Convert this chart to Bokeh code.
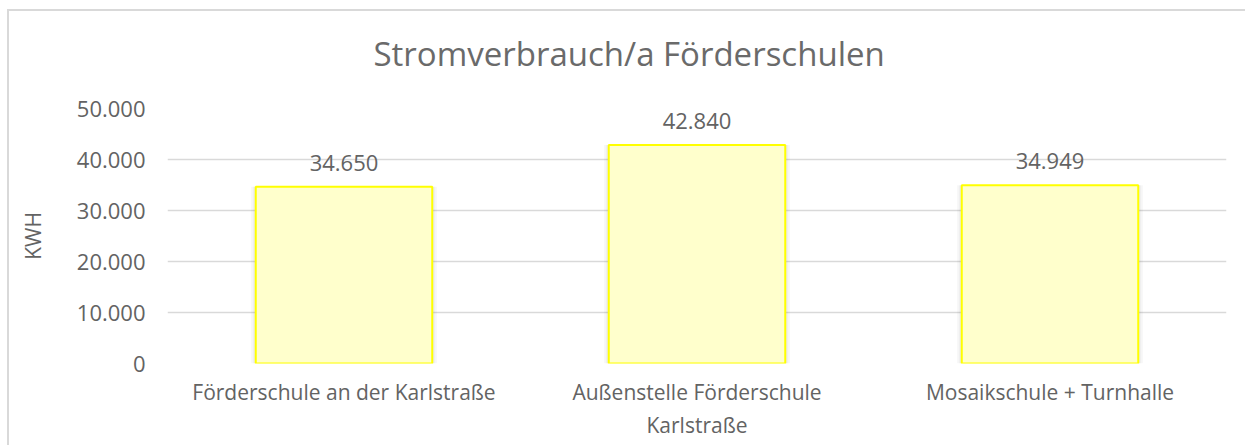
from bokeh.plotting import figure
from bokeh.models import FactorRange, CustomJSTickFormatter, FixedTicker, ColumnDataSource, Title
from bokeh.core.properties import value
from bokeh.embed import file_html
from bokeh.resources import INLINE

title_text = "Stromverbrauch/a Förderschulen"
categories = ["Förderschule an der Karlstraße", "Außenstelle Förderschule\nKarlstraße", "Mosaikschule + Turnhalle"]
kwh = [34650, 42840, 34949]
value_labels = ["34.650", "42.840", "34.949"]
y_ticks = [0, 10000, 20000, 30000, 40000, 50000]

FONT = "Open Sans"
TXT = "#636363"

src = ColumnDataSource(dict(cat=categories, kwh=kwh, lab=value_labels))

p = figure(
    x_range=FactorRange(*categories, range_padding=0),
    y_range=(0, 50000),
    width=1238, height=436,
    output_backend="svg", toolbar_location=None,
    min_border_left=158, min_border_right=21, min_border_top=97, min_border_bottom=84,
    styles={"border-top": "2px solid #d9d9d9", "border-left": "2px solid #d9d9d9",
            "margin-left": "7px", "margin-top": "9px"},
)
p.outline_line_color = None

# spacer between title and plot area
p.add_layout(Title(text=" ", text_font_size="1px", standoff=30), "above")
p.add_layout(Title(text=title_text, text_font=FONT, text_font_size="33px",
                   text_font_style="normal", text_color="#6a6a6a",
                   align="left", offset=206, standoff=0), "above")

p.xgrid.grid_line_color = None
p.ygrid.grid_line_color = "#d9d9d9"
p.ygrid.grid_line_width = 1.5

# soft shadow behind bars
p.vbar(x="cat", top="kwh", width=0.526, source=src, fill_color="black", fill_alpha=0.035, line_color=None)
p.vbar(x="cat", top="kwh", width=0.514, source=src, fill_color="black", fill_alpha=0.045, line_color=None)

p.vbar(x="cat", top="kwh", width=0.5, source=src,
       fill_color="#FFFFCC", line_color="#FFFF00", line_width=2)

p.text(x="cat", y="kwh", text="lab", source=src,
       text_font=value(FONT), text_font_size="22px", text_color=TXT,
       text_align="center", text_baseline="middle", y_offset=-24)

p.yaxis.ticker = FixedTicker(ticks=y_ticks)
p.yaxis.formatter = CustomJSTickFormatter(code="""
return tick.toFixed(0).replace(/\\B(?=(\\d{3})+(?!\\d))/g, '.');
""")
p.yaxis.axis_line_color = None
p.yaxis.major_tick_line_color = None
p.yaxis.minor_tick_line_color = None
p.yaxis.major_label_text_font = FONT
p.yaxis.major_label_text_font_size = "22px"
p.yaxis.major_label_text_color = TXT
p.yaxis.major_label_standoff = 16
p.yaxis.axis_label = "KWH"
p.yaxis.axis_label_text_font = FONT
p.yaxis.axis_label_text_font_size = "21px"
p.yaxis.axis_label_text_font_style = "normal"
p.yaxis.axis_label_text_color = TXT
p.yaxis.axis_label_standoff = 27

p.xaxis.axis_line_color = None
p.xaxis.major_tick_line_color = None
p.xaxis.minor_tick_line_color = None
p.xaxis.major_label_text_font = FONT
p.xaxis.major_label_text_font_size = "21px"
p.xaxis.major_label_text_color = TXT
p.xaxis.major_label_standoff = 8

open("out.html", "w").write(file_html(p, INLINE))
